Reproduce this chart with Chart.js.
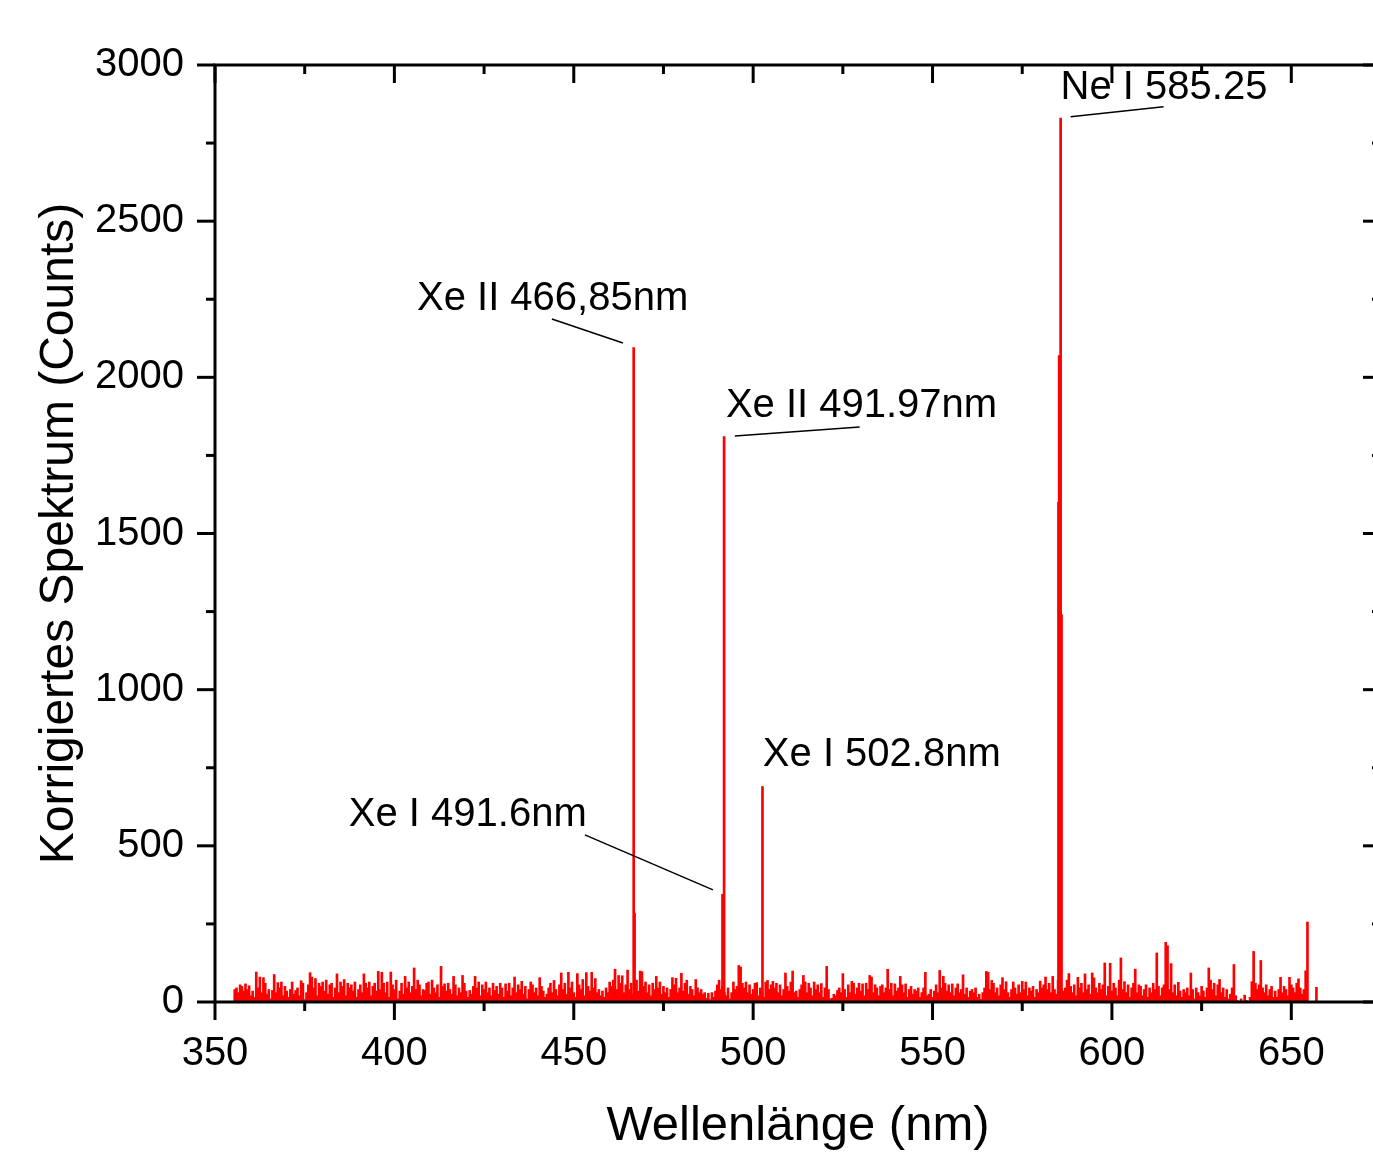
<!DOCTYPE html>
<html>
<head>
<meta charset="utf-8">
<script src="https://cdn.jsdelivr.net/npm/chart.js@4/dist/chart.umd.min.js"></script>
<style>
  html, body { margin: 0; padding: 0; background: #ffffff; overflow: hidden; }
  #wrap { width: 1390px; height: 1152px; }
</style>
</head>
<body>
<div id="wrap"><canvas id="c" width="1390" height="1152"></canvas></div>
<script>
// ---------------- DATA ----------------
// Spectrum noise, 0.5 nm sampling
const noiseStartA = 355.5; // 355.5 .. 455.0
const noiseA = [
  40,45,30,55,50,35,58,40,52,20,35,15,96,45,80,30,78,60,25,40,
  10,37,88,30,62,45,64,20,50,35,15,40,64,25,37,45,20,68,60,8,
  30,55,94,80,45,75,20,60,50,64,35,70,25,55,60,15,45,90,30,64,
  50,72,20,60,45,55,35,64,15,40,55,30,90,60,45,64,20,50,60,35,
  98,40,95,60,30,64,15,96,55,40,70,10,35,60,25,82,45,64,30,50,
  109,40,70,55,20,40,37,60,64,25,70,45,30,55,15,114,50,58,35,60,
  40,25,82,55,20,45,30,85,60,35,15,37,25,50,82,45,64,20,55,40,
  64,30,45,20,60,37,50,25,60,45,15,58,35,60,20,45,80,30,55,40,
  66,25,50,10,40,64,55,30,45,20,78,50,35,15,25,45,60,30,69,40,
  20,55,93,40,60,25,95,45,64,30,15,91,55,40,72,20,94,50,35,95
];
const noiseStartB = 455.5; // 455.5 .. 555.0
const noiseB = [
  45,75,30,40,20,35,15,45,30,64,50,70,105,40,85,60,84,30,55,102,
  40,60,25,45,70,35,99,97,50,64,30,55,20,60,40,82,45,64,25,50,
  30,45,15,40,78,55,76,30,45,92,35,60,70,25,50,40,20,72,45,30,
  40,25,30,12,28,8,30,15,35,55,70,40,50,30,20,45,10,30,64,40,
  50,117,112,60,45,64,30,55,25,40,60,62,20,45,30,15,64,69,40,55,
  66,45,60,30,55,20,40,93,50,35,64,99,30,35,15,40,55,85,64,30,
  60,45,20,64,40,55,30,59,15,45,114,40,10,12,25,20,37,45,30,91,
  40,15,55,30,66,60,25,45,60,35,58,20,60,40,85,80,30,55,45,20,
  50,55,30,45,105,40,60,20,58,35,45,82,55,30,58,15,40,50,25,40,
  35,45,15,30,45,95,20,25,40,15,35,55,30,101,45,82,60,35,55,30
];
const noiseStartC = 555.5; // 555.5 .. 657.0
const noiseC = [
  58,20,45,58,30,40,87,25,45,15,35,40,30,45,15,25,8,30,45,98,
  95,40,69,60,30,45,20,55,78,40,65,30,15,40,64,45,25,55,30,66,
  40,64,20,45,35,50,15,40,30,67,45,55,80,40,60,30,82,40,25,70,
  80,40,35,45,70,91,50,30,55,20,79,45,60,30,90,40,55,25,93,77,
  45,30,60,40,55,125,20,50,124,35,60,45,20,70,141,40,65,30,55,15,
  45,60,105,30,55,50,20,40,55,15,45,30,60,40,157,50,20,45,55,191,
  180,40,123,30,55,20,63,35,15,40,30,45,20,93,40,10,45,30,20,50,
  35,15,45,109,70,40,60,20,55,72,30,45,15,40,10,25,45,120,20,5,
  0,10,0,22,5,0,15,65,162,60,40,55,133,45,30,55,20,40,50,15,
  35,15,40,79,30,50,40,20,79,55,45,30,60,74,45,25,40,100,0,0,
  0,0,0,47
];
const noiseStep = 0.5;

// Emission lines (wavelength nm, counts)
const peakNm     = [466.7, 466.95, 491.45, 491.9, 502.6, 585.1, 585.3, 585.5, 585.7, 585.95, 654.5];
const peakCounts = [2095,  285,    345,    1810,  690,   1600,  2070,  1540,  2830,  1240,   256];

// Axis ticks
const xTicks = [350, 400, 450, 500, 550, 600, 650];
const xMinorTicks = [375, 425, 475, 525, 575, 625];
const yTicks = [0, 500, 1000, 1500, 2000, 2500, 3000];
const yMinorTicks = [250, 750, 1250, 1750, 2250, 2750];

// Annotations
const labelTexts  = ['Xe II 466,85nm', 'Xe II 491.97nm', 'Xe I 502.8nm', 'Xe I 491.6nm', 'Ne I 585.25'];
const labelNm     = [406.3, 492.4, 502.7, 387.3, 585.7];
const labelCounts = [2251, 1909, 791, 599, 2927];
const leaderFromNm     = [443.9, 494.9, 453.1, 588.5];
const leaderFromCounts = [2187, 1812, 535, 2834];
const leaderToNm       = [463.7, 529.7, 488.8, 614.4];
const leaderToCounts   = [2110, 1841, 359, 2866];

const xTitle = 'Wellenlänge (nm)';
const yTitle = 'Korrigiertes Spektrum (Counts)';

// ---------------- BUILD ----------------
function toPoints(start, arr) {
  return arr.map((v, i) => ({ x: start + noiseStep * i, y: v }));
}
const noisePts = [].concat(toPoints(noiseStartA, noiseA), toPoints(noiseStartB, noiseB), toPoints(noiseStartC, noiseC));
const peakPts = peakNm.map((x, i) => ({ x: x, y: peakCounts[i] }));

const FONT = '"Liberation Sans", Arial, sans-serif';

const framePlugin = {
  id: 'frame',
  afterDatasetsDraw(chart) {
    const ctx = chart.ctx;
    const xs = chart.scales.x, ys = chart.scales.y;
    const { left, right, top, bottom } = chart.chartArea;
    ctx.save();
    // annotations
    ctx.fillStyle = '#000';
    ctx.font = '40px ' + FONT;
    ctx.textAlign = 'left';
    ctx.textBaseline = 'middle';
    labelTexts.forEach((t, i) => {
      ctx.fillText(t, xs.getPixelForValue(labelNm[i]), ys.getPixelForValue(labelCounts[i]));
    });
    ctx.strokeStyle = '#000';
    ctx.lineWidth = 1.5;
    leaderFromNm.forEach((v, i) => {
      ctx.beginPath();
      ctx.moveTo(xs.getPixelForValue(v), ys.getPixelForValue(leaderFromCounts[i]));
      ctx.lineTo(xs.getPixelForValue(leaderToNm[i]), ys.getPixelForValue(leaderToCounts[i]));
      ctx.stroke();
    });
    // frame + ticks
    ctx.lineWidth = 3;
    ctx.lineCap = 'butt';
    ctx.strokeRect(left, top, right - left, bottom - top);
    const seg = (x1, y1, x2, y2) => { ctx.beginPath(); ctx.moveTo(x1, y1); ctx.lineTo(x2, y2); ctx.stroke(); };
    xTicks.forEach(v => {
      const p = xs.getPixelForValue(v);
      seg(p, bottom, p, bottom + 18);
      seg(p, top, p, top + 18);
    });
    xMinorTicks.forEach(v => {
      const p = xs.getPixelForValue(v);
      seg(p, bottom, p, bottom + 9);
      seg(p, top, p, top + 9);
    });
    yTicks.forEach(v => {
      const p = ys.getPixelForValue(v);
      seg(left - 18, p, left, p);
      seg(right - 18, p, right, p);
    });
    yMinorTicks.forEach(v => {
      const p = ys.getPixelForValue(v);
      seg(left - 9, p, left, p);
      seg(right - 9, p, right, p);
    });
    ctx.restore();
  }
};

new Chart(document.getElementById('c'), {
  type: 'bar',
  data: {
    datasets: [
      { data: noisePts, backgroundColor: '#ff0000', borderWidth: 0, barThickness: 2, grouped: false },
      { data: peakPts, backgroundColor: '#ff0000', borderWidth: 0, barThickness: 2, grouped: false }
    ]
  },
  options: {
    responsive: false,
    animation: false,
    events: [],
    layout: { padding: { top: 65, right: 9, left: 0, bottom: 0 } },
    plugins: { legend: { display: false }, tooltip: { enabled: false } },
    scales: {
      x: {
        type: 'linear',
        min: 350,
        max: 675,
        offset: false,
        grid: { display: false, drawTicks: false },
        border: { display: false },
        afterBuildTicks: s => { s.ticks = xTicks.map(v => ({ value: v })); },
        afterFit: s => { s.height = 150; },
        ticks: { color: '#000', padding: 28, maxRotation: 0, autoSkip: false, callback: v => String(v), font: { family: FONT, size: 40 } },
        title: { display: true, text: xTitle, color: '#000', font: { family: FONT, size: 49, lineHeight: 1 }, padding: { top: 0, bottom: 1 } }
      },
      y: {
        min: 0,
        max: 3000,
        grid: { display: false, drawTicks: false },
        border: { display: false },
        afterBuildTicks: s => { s.ticks = yTicks.map(v => ({ value: v })); },
        afterFit: s => { s.width = 215; },
        ticks: { color: '#000', padding: 31, autoSkip: false, callback: v => String(v), font: { family: FONT, size: 40 } },
        title: { display: true, text: yTitle, color: '#000', font: { family: FONT, size: 48, lineHeight: 1 }, padding: { top: 36, bottom: 0 } }
      }
    }
  },
  plugins: [framePlugin]
});
</script>
</body>
</html>
